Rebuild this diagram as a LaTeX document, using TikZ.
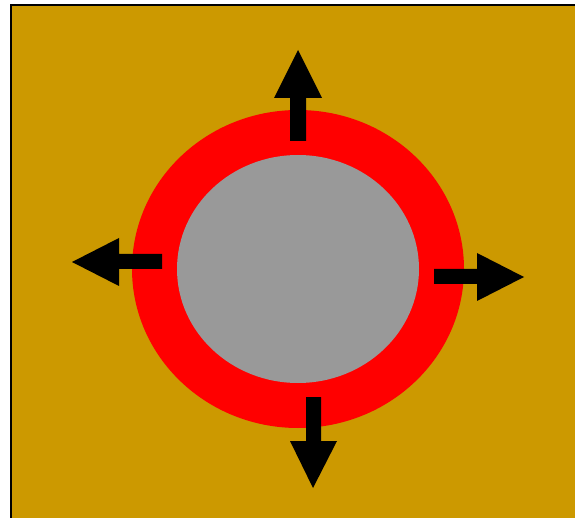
\documentclass[tikz,border=0pt]{standalone}
\usepackage{tikz}
\definecolor{bgochre}{HTML}{CC9900}
\definecolor{ringred}{HTML}{FF0000}
\definecolor{coregray}{HTML}{999999}
\begin{document}
\begin{tikzpicture}[x=1pt,y=-1pt,
  arrowshape/.style={fill=black,draw=none}]
\useasboundingbox (0,0) rectangle (575,518);
\clip (0,0) rectangle (575,518);
\fill[white] (0,0) rectangle (575,518);
\draw[fill=bgochre,line width=2pt] (11,5) rectangle (600,540);
% ring and core
\fill[ringred] (298,269) ellipse [x radius=166, y radius=159];
\fill[coregray] (298,269) ellipse [x radius=121, y radius=114];
\coordinate (centre) at (298,269);
% up arrow
\fill[arrowshape] (290,141) -- (290,98) -- (274,98) -- (298,50) -- (322,98) -- (306,98) -- (306,141) -- cycle;
% left arrow
\fill[arrowshape] (162,254) -- (119,254) -- (119,238) -- (72,262) -- (119,286) -- (119,269) -- (162,269) -- cycle;
% right arrow
\fill[arrowshape] (434,269) -- (477,269) -- (477,253) -- (524,277) -- (477,301) -- (477,284) -- (434,284) -- cycle;
% down arrow
\fill[arrowshape] (306,397) -- (306,441) -- (290,441) -- (313,488) -- (337,441) -- (321,441) -- (321,397) -- cycle;
\end{tikzpicture}
\end{document}
